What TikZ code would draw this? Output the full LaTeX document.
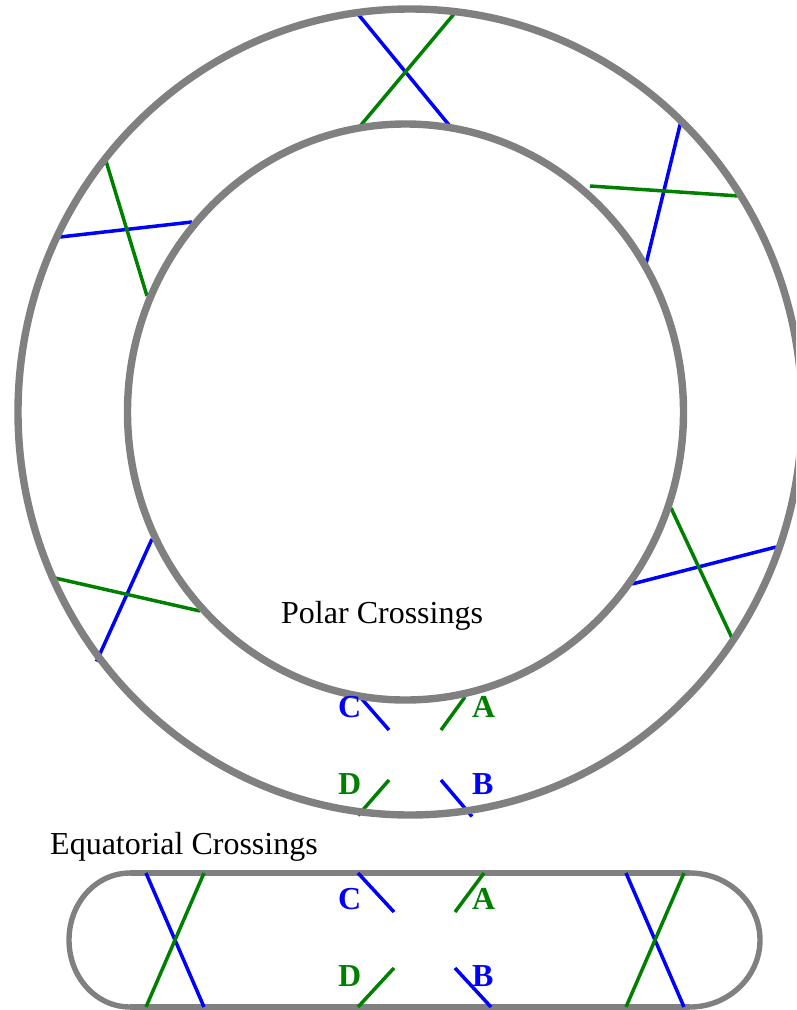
\documentclass[tikz,border=0pt]{standalone}
\usepackage{fontspec}
\setmainfont{Liberation Serif}
\definecolor{ringgray}{RGB}{128,128,128}
\definecolor{wireblue}{RGB}{0,0,255}
\definecolor{wiregreen}{RGB}{0,128,0}
\tikzset{
  ring/.style={draw=ringgray,line width=7.4pt},
  trackline/.style={draw=ringgray,line width=6.4pt},
  trackarc/.style={draw=ringgray,line width=5.4pt},
  bw/.style={draw=wireblue,line width=3.5pt},
  gw/.style={draw=wiregreen,line width=3.5pt},
  caption/.style={font=\fontsize{32}{36}\selectfont,text=black,inner sep=0pt,anchor=base west},
  bl/.style={font=\fontsize{32}{36}\selectfont\bfseries,text=wireblue,inner sep=0pt,anchor=base west},
  gl/.style={font=\fontsize{32}{36}\selectfont\bfseries,text=wiregreen,inner sep=0pt,anchor=base west}
}
\begin{document}
\begin{tikzpicture}[x=1pt,y=-1pt]
\useasboundingbox (0,0) rectangle (796,1010);
\clip (0,0) rectangle (796,1010);
% polar wires
\draw[bw] (358,14) -- (449,125);
\draw[gw] (454,14) -- (361,125);
\draw[bw] (681,121) -- (646,264);
\draw[gw] (590,186) -- (739,196);
\draw[bw] (776,547) -- (632,584);
\draw[gw] (671,508) -- (732,638);
\draw[bw] (152,539) -- (96.5,661.5);
\draw[gw] (55,578) -- (200,611);
\draw[bw] (60,237) -- (192,222);
\draw[gw] (106,161) -- (147,296);
\draw[bw] (361,698) -- (389,730);
\draw[gw] (465,697) -- (441,730);
\draw[gw] (389,780) -- (358,815.5);
\draw[bw] (441,780) -- (472,816.5);
% polar rings
\path[ring] (410,412) ellipse [x radius=392,y radius=403];
\path[ring] (405.5,412) ellipse [x radius=278,y radius=288];
% equatorial track
\draw[trackline] (130,873) -- (690,873);
\draw[trackline] (130,1007) -- (690,1007);
\draw[trackarc] (130,873) .. controls (96,873) and (69,903) .. (69,940) .. controls (69,977) and (96,1007) .. (130,1007);
\draw[trackarc] (690,873) .. controls (728,873) and (760,903) .. (760,940) .. controls (760,977) and (728,1007) .. (690,1007);
% equatorial wires
\draw[bw] (146,873) -- (204,1007);
\draw[gw] (204,873) -- (146,1007);
\draw[bw] (626,873) -- (684,1007);
\draw[gw] (684,873) -- (626,1007);
\draw[bw] (358,873) -- (394,912);
\draw[gw] (484,873) -- (455,912);
\draw[gw] (394,968) -- (358,1007);
\draw[bw] (455,968) -- (491,1007);
% labels
\node[caption] (polar) at (281,623) {Polar Crossings};
\node[caption] (equat) at (50,854) {Equatorial Crossings};
\node[bl] (pc) at (338,717) {C};
\node[gl] (pa) at (472,717) {A};
\node[gl] (pd) at (338,794) {D};
\node[bl] (pb) at (472,794) {B};
\node[bl] (ec) at (338,909) {C};
\node[gl] (ea) at (472,909) {A};
\node[gl] (ed) at (338,986) {D};
\node[bl] (eb) at (472,986) {B};
\end{tikzpicture}
\end{document}
